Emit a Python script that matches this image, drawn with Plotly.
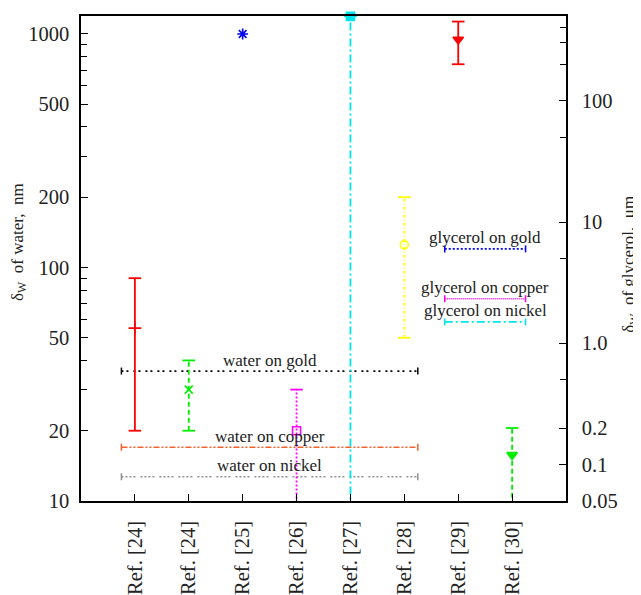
import numpy as np
import plotly.graph_objects as go

# ---------------- data ----------------
ref_labels = ["Ref. [24]", "Ref. [24]", "Ref. [25]", "Ref. [26]",
              "Ref. [27]", "Ref. [28]", "Ref. [29]", "Ref. [30]"]

# measured points: value, lower and upper end of the bar (None = no bar)
point_value = [55, 30, 1000, 20, 1190, 125, 320, 0.12]
point_low = [20, 20, None, 1, 1, 50, 200, 0.01]
point_high = [90, 40, None, 30, 1190, 200, 450, 0.2]
point_liquid = ["water", "water", "water", "water", "water", "water",
                "glycerol", "glycerol"]

# reference levels
water_names = ["water on gold", "water on copper", "water on nickel"]
water_levels = [36, 17, 12.7]          # nm
water_span = [0.75, 6.25]              # category units
glyc_names = ["glycerol on gold", "glycerol on copper", "glycerol on nickel"]
glyc_levels = [6.0, 2.33, 1.5]         # um
glyc_span = [6.75, 8.25]

left_ticks = [10, 20, 50, 100, 200, 500, 1000]
left_minor = [30, 40, 60, 70, 80, 90, 300, 400, 600, 700, 800, 900]
right_ticks = [0.05, 0.1, 0.2, 1, 10, 100, 500]
right_ticktext = ["0.05", "0.1", "0.2", "1.0", "10", "100", "500"]
right_minor = [0.5, 5, 50, 200, 300, 400]
left_range = [10, 1194]
right_range = [0.05, 500]

# ---------------- styles ----------------
FONT = "'Liberation Serif', Tinos, 'Times New Roman', Times, serif"
pt_color = ["#ff0000", "#00ee00", "#0000ff", "#ff00ff", "#00e5ee", "#ffff00", "#ff0000", "#00ee00"]
pt_dash = ["solid", "5px,3px", None, "2px,2px", "8px,3px,2px,3px", "3px,2px,1px,2px", "solid", "5px,3px"]
pt_symbol = ["cross-thin-open", "x-thin-open", "asterisk-open", "square-open", "square",
             "circle-open", "triangle-down", "triangle-down"]
pt_size = [9, 8, 9, 8, 8, 8, 9, 9]
water_colors = ["#000000", "#f4602a", "#909090"]
water_dash = ["2px,3px,2px,5px", "6px,2px,2px,2px,2px,2px", "2px,2px,2px,2px,2px,2px,2px,5px"]
glyc_colors = ["#0000ff", "#ff00ff", "#00e5ee"]
glyc_dash = ["2px,2px", "1px,1px", "8px,3px,2px,3px"]

fig = go.Figure()
x_pos = np.arange(1, len(ref_labels) + 1)


def yaxis_of(liquid):
    return "y" if liquid == "water" else "y2"


# horizontal reference levels
for names, levels, span, cols, dashes, ax in [
        (water_names, water_levels, water_span, water_colors, water_dash, "y"),
        (glyc_names, glyc_levels, glyc_span, glyc_colors, glyc_dash, "y2")]:
    for name, lev, c, d in zip(names, levels, cols, dashes):
        fig.add_trace(go.Scatter(x=span, y=[lev, lev], yaxis=ax, mode="lines",
                                 line=dict(color=c, width=1.6, dash=d),
                                 showlegend=False, hoverinfo="skip"))
        fig.add_trace(go.Scatter(x=span, y=[lev, lev], yaxis=ax, mode="markers",
                                 marker=dict(symbol="line-ns", size=5,
                                             line=dict(color=c, width=1.5)),
                                 showlegend=False, hoverinfo="skip"))
        fig.add_annotation(x=sum(span) / 2, y=np.log10(lev), xref="x",
                           yref=ax, text=name, showarrow=False, yshift=11,
                           font=dict(family=FONT, size=17, color="#222"))

# vertical bars with points
for i, (xv, v, lo, hi, liq) in enumerate(zip(x_pos, point_value, point_low,
                                             point_high, point_liquid)):
    ax = yaxis_of(liq)
    c = pt_color[i]
    if lo is not None:
        fig.add_trace(go.Scatter(x=[xv, xv], y=[lo, hi], yaxis=ax, mode="lines",
                                 line=dict(color=c, width=1.8, dash=pt_dash[i]),
                                 showlegend=False, hoverinfo="skip"))
        fig.add_trace(go.Scatter(x=[xv, xv], y=[lo, hi], yaxis=ax, mode="markers",
                                 marker=dict(symbol="line-ew", size=9,
                                             line=dict(color=c, width=1.8)),
                                 showlegend=False, hoverinfo="skip"))
    fig.add_trace(go.Scatter(x=[xv], y=[v], yaxis=ax, mode="markers",
                             cliponaxis=False,
                             marker=dict(symbol=pt_symbol[i], size=pt_size[i],
                                         color=c, line=dict(color=c, width=1.6)),
                             showlegend=False, hoverinfo="skip"))

axis_common = dict(showline=True, linecolor="black", linewidth=1.5,
                   ticks="inside", ticklen=7, tickwidth=1, tickcolor="black",
                   showgrid=False, zeroline=False, automargin=False,
                   tickfont=dict(family=FONT, size=20.5, color="#222"))

# the page body adds an 8px offset, so the figure is sized to fit the window
fig.update_layout(
    width=633, height=587,
    margin=dict(l=73, r=75, t=8, b=94, autoexpand=False),
    plot_bgcolor="white", paper_bgcolor="white",
    showlegend=False,
    font=dict(family=FONT),
    xaxis=dict(range=[0, len(ref_labels) + 1], tickvals=x_pos, ticktext=ref_labels,
               tickangle=-90, mirror=True, ticklabelstandoff=10, **axis_common),
    yaxis=dict(type="log", range=list(np.log10(left_range)), tickvals=left_ticks,
               ticktext=[str(t) for t in left_ticks], ticklabelstandoff=6,
               minor=dict(tickvals=left_minor, ticks="inside", ticklen=6,
                          tickcolor="black"),
               **axis_common),
    yaxis2=dict(type="log", overlaying="y", side="right",
                range=list(np.log10(right_range)), tickvals=right_ticks,
                ticktext=right_ticktext, ticklabelstandoff=10,
                minor=dict(tickvals=right_minor, ticks="inside", ticklen=6,
                           tickcolor="black"),
                **axis_common),
)

fig.add_annotation(text="δ<sub>W</sub>  of water,  nm", xref="paper", yref="paper",
                   x=-0.128, y=0.534, textangle=-90, showarrow=False,
                   xanchor="center", yanchor="middle",
                   font=dict(family=FONT, size=17, color="#222"))
fig.add_annotation(text="δ<sub>W</sub>  of glycerol,  μm", xref="paper", yref="paper",
                   x=1.132, y=0.487, textangle=-90, showarrow=False,
                   xanchor="center", yanchor="middle",
                   font=dict(family=FONT, size=17, color="#222"))

fig.write_html("out.html")
